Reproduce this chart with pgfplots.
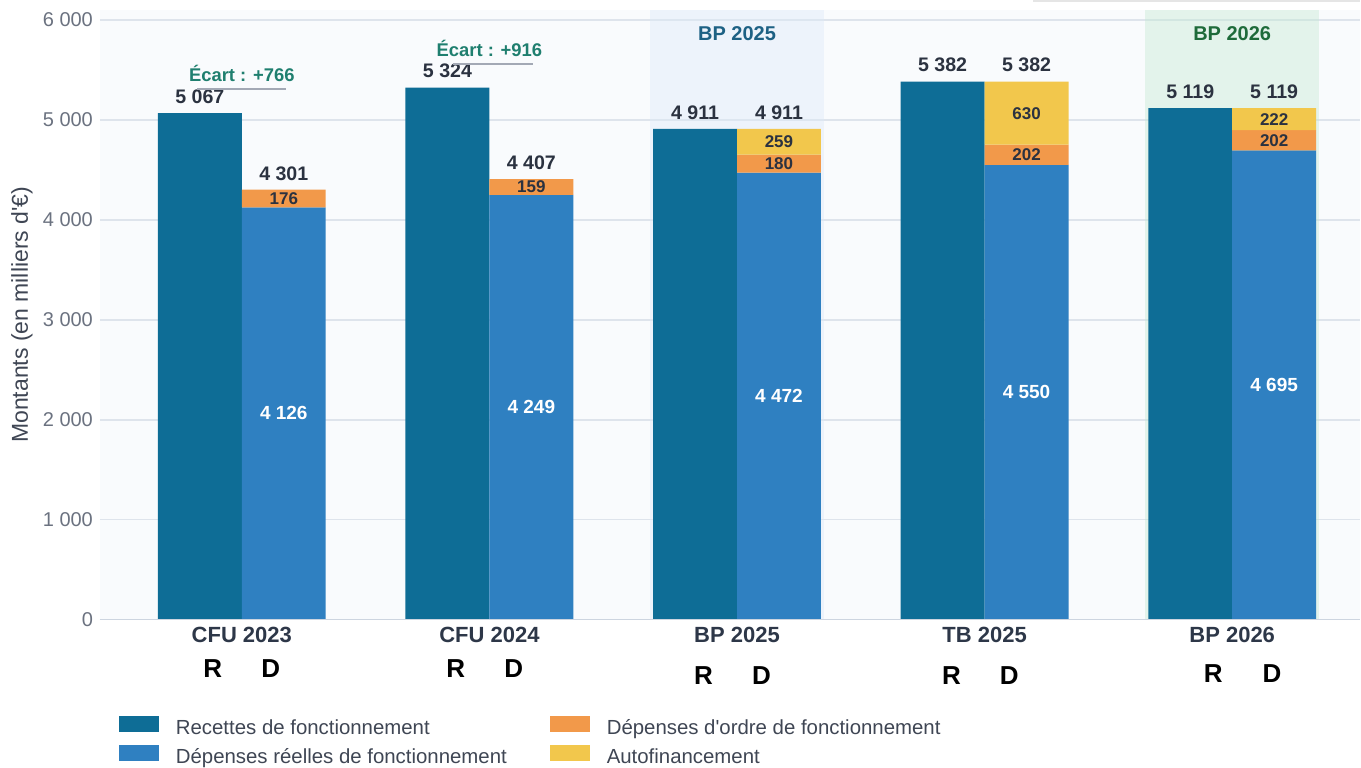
\documentclass[border=0pt]{standalone}
\usepackage{fontspec}
\setmainfont{Liberation Sans}
\usepackage{pgfplots}
\pgfplotsset{compat=1.18}

\definecolor{recettes}{HTML}{0E6D96}
\definecolor{reelles}{HTML}{2F80C1}
\definecolor{ordre}{HTML}{F2994A}
\definecolor{autofin}{HTML}{F2C74C}
\definecolor{plotbg}{HTML}{F9FBFD}
\definecolor{gridc}{HTML}{DEE4EC}
\definecolor{xaxisc}{HTML}{CDD5E0}
\definecolor{tickc}{HTML}{6B7280}
\definecolor{labc}{HTML}{3F4654}
\definecolor{catc}{HTML}{2D3748}
\definecolor{valc}{HTML}{2B3240}
\definecolor{ecartc}{HTML}{1F7F6F}
\definecolor{ecartline}{HTML}{A3A9B5}
\definecolor{bandA}{HTML}{DDE9F8}
\definecolor{bandB}{HTML}{C2E9D2}
\definecolor{bpA}{HTML}{1D6184}
\definecolor{bpB}{HTML}{1E6B3A}

\begin{document}
\begin{tikzpicture}
\fill[white] (0,0) rectangle (680.5pt,384pt);
\draw[gray!20, line width=0.8pt] (517pt,383.6pt) -- (680.5pt,383.6pt);
\begin{axis}[
    at={(50pt,74pt)}, anchor=south west,
    width=630.5pt, height=305pt, scale only axis,
    xmin=-0.573, xmax=4.517,
    ymin=0, ymax=6100,
    ybar stacked, bar width=0.339,
    reverse stacked plots=false,
    clip=false,
    axis background/.style={fill=plotbg},
    axis line style={draw=none},
    major tick length=0pt,
    ymajorgrids,
    grid style={color=gridc, line width=0.8pt},
    ytick={0,1000,2000,3000,4000,5000,6000},
    yticklabels={0,1 000,2 000,3 000,4 000,5 000,6 000},
    yticklabel style={font=\fontsize{10}{12}\selectfont, text=tickc},
    xtick={0,1,2,3,4},
    xticklabels={CFU 2023,CFU 2024,BP 2025,TB 2025,BP 2026},
    xticklabel style={font=\bfseries\fontsize{11}{13}\selectfont, text=catc},
    ylabel={Montants (en milliers d\textquotesingle €)},
    every axis y label/.style={at={(axis description cs:0,0.5)}, xshift=-39pt,
        rotate=90, anchor=center, font=\fontsize{11.5}{13}\selectfont, text=labc},
    legend columns=2,
    legend cell align=left,
    legend image code/.code={\fill[#1, draw=none] (0pt,-1.4pt) rectangle (20pt,6.6pt);},
    legend style={at={(axis description cs:0.01507,-0.1587)}, anchor=north west,
        draw=none, fill=none, inner sep=0pt, outer sep=0pt,
        font=\fontsize{10.2}{12}\selectfont, text=labc,
        nodes={inner sep=0pt, text height=7.2pt, text depth=2pt},
        row sep=3.3pt,
        /tikz/every odd column/.append style={column sep=8.5pt},
        /tikz/every even column/.append style={column sep=21.5pt}},
]
% bandes de mise en avant
\fill[bandA, opacity=0.4] (axis cs:1.647,0) rectangle (axis cs:2.353,6100);
\fill[bandB, opacity=0.4] (axis cs:3.649,0) rectangle (axis cs:4.351,6100);

\addplot[fill=recettes, draw=none, forget plot] coordinates {
    (-0.1695,5067) (0.1695,0) (0.8305,5324) (1.1695,0) (1.8305,4911) (2.1695,0)
    (2.8305,5382) (3.1695,0) (3.8305,5119) (4.1695,0)};
\addplot[fill=reelles, draw=none, forget plot] coordinates {
    (-0.1695,0) (0.1695,4126) (0.8305,0) (1.1695,4249) (1.8305,0) (2.1695,4472)
    (2.8305,0) (3.1695,4550) (3.8305,0) (4.1695,4695)};
\addplot[fill=ordre, draw=none, forget plot] coordinates {
    (-0.1695,0) (0.1695,176) (0.8305,0) (1.1695,159) (1.8305,0) (2.1695,180)
    (2.8305,0) (3.1695,202) (3.8305,0) (4.1695,202)};
\addplot[fill=autofin, draw=none, forget plot] coordinates {
    (-0.1695,0) (0.1695,0) (0.8305,0) (1.1695,0) (1.8305,0) (2.1695,259)
    (2.8305,0) (3.1695,630) (3.8305,0) (4.1695,222)};

\addlegendimage{fill=recettes}
\addlegendentry{Recettes de fonctionnement}
\addlegendimage{fill=ordre}
\addlegendentry{Dépenses d\textquotesingle ordre de fonctionnement}
\addlegendimage{fill=reelles}
\addlegendentry{Dépenses réelles de fonctionnement}
\addlegendimage{fill=autofin}
\addlegendentry{Autofinancement}

% axe horizontal
\draw[xaxisc, line width=0.8pt] (rel axis cs:0,0) -- (rel axis cs:1,0);

% valeurs totales
\node[font=\bfseries\fontsize{9.8}{11}\selectfont, text=valc] at (axis cs:-0.1695,5232) {5 067};
\node[font=\bfseries\fontsize{9.8}{11}\selectfont, text=valc] at (axis cs:0.1695,4466) {4 301};
\node[font=\bfseries\fontsize{9.8}{11}\selectfont, text=valc] at (axis cs:0.8305,5489) {5 324};
\node[font=\bfseries\fontsize{9.8}{11}\selectfont, text=valc] at (axis cs:1.1695,4572) {4 407};
\node[font=\bfseries\fontsize{9.8}{11}\selectfont, text=valc] at (axis cs:1.8305,5076) {4 911};
\node[font=\bfseries\fontsize{9.8}{11}\selectfont, text=valc] at (axis cs:2.1695,5076) {4 911};
\node[font=\bfseries\fontsize{9.8}{11}\selectfont, text=valc] at (axis cs:2.8305,5547) {5 382};
\node[font=\bfseries\fontsize{9.8}{11}\selectfont, text=valc] at (axis cs:3.1695,5547) {5 382};
\node[font=\bfseries\fontsize{9.8}{11}\selectfont, text=valc] at (axis cs:3.8305,5284) {5 119};
\node[font=\bfseries\fontsize{9.8}{11}\selectfont, text=valc] at (axis cs:4.1695,5284) {5 119};

% segments
\node[font=\bfseries\fontsize{8.5}{10}\selectfont, text=valc] at (axis cs:0.1695,4214) {176};
\node[font=\bfseries\fontsize{8.5}{10}\selectfont, text=valc] at (axis cs:1.1695,4328) {159};
\node[font=\bfseries\fontsize{8.5}{10}\selectfont, text=valc] at (axis cs:2.1695,4562) {180};
\node[font=\bfseries\fontsize{8.5}{10}\selectfont, text=valc] at (axis cs:2.1695,4781) {259};
\node[font=\bfseries\fontsize{8.5}{10}\selectfont, text=valc] at (axis cs:3.1695,4651) {202};
\node[font=\bfseries\fontsize{8.5}{10}\selectfont, text=valc] at (axis cs:3.1695,5067) {630};
\node[font=\bfseries\fontsize{8.5}{10}\selectfont, text=valc] at (axis cs:4.1695,4796) {202};
\node[font=\bfseries\fontsize{8.5}{10}\selectfont, text=valc] at (axis cs:4.1695,5008) {222};

% dépenses réelles
\node[font=\bfseries\fontsize{9.5}{11}\selectfont, text=white] at (axis cs:0.1695,2063) {4 126};
\node[font=\bfseries\fontsize{9.5}{11}\selectfont, text=white] at (axis cs:1.1695,2125) {4 249};
\node[font=\bfseries\fontsize{9.5}{11}\selectfont, text=white] at (axis cs:2.1695,2236) {4 472};
\node[font=\bfseries\fontsize{9.5}{11}\selectfont, text=white] at (axis cs:3.1695,2275) {4 550};
\node[font=\bfseries\fontsize{9.5}{11}\selectfont, text=white] at (axis cs:4.1695,2348) {4 695};

% écarts
\draw[ecartline, line width=1pt] (axis cs:-0.18,5305) -- (axis cs:0.178,5305);
\draw[ecartline, line width=1pt] (axis cs:0.852,5562) -- (axis cs:1.175,5562);
\node[font=\bfseries\fontsize{9.2}{11}\selectfont, text=ecartc] at (axis cs:0,5462) {Écart : +766};
\node[font=\bfseries\fontsize{9.2}{11}\selectfont, text=ecartc] at (axis cs:1,5715) {Écart : +916};

% titres des bandes
\node[font=\bfseries\fontsize{10}{12}\selectfont, text=bpA] at (axis cs:2,5860) {BP 2025};
\node[font=\bfseries\fontsize{10}{12}\selectfont, text=bpB] at (axis cs:4,5860) {BP 2026};

% repères R / D
\node[font=\bfseries\fontsize{13}{15}\selectfont] at (axis cs:-0.117,-485) {R};
\node[font=\bfseries\fontsize{13}{15}\selectfont] at (axis cs:0.117,-485) {D};
\node[font=\bfseries\fontsize{13}{15}\selectfont] at (axis cs:0.864,-485) {R};
\node[font=\bfseries\fontsize{13}{15}\selectfont] at (axis cs:1.098,-485) {D};
\node[font=\bfseries\fontsize{13}{15}\selectfont] at (axis cs:1.865,-555) {R};
\node[font=\bfseries\fontsize{13}{15}\selectfont] at (axis cs:2.099,-555) {D};
\node[font=\bfseries\fontsize{13}{15}\selectfont] at (axis cs:2.866,-555) {R};
\node[font=\bfseries\fontsize{13}{15}\selectfont] at (axis cs:3.100,-555) {D};
\node[font=\bfseries\fontsize{13}{15}\selectfont] at (axis cs:3.923,-535) {R};
\node[font=\bfseries\fontsize{13}{15}\selectfont] at (axis cs:4.161,-535) {D};
\end{axis}
\end{tikzpicture}
\end{document}
